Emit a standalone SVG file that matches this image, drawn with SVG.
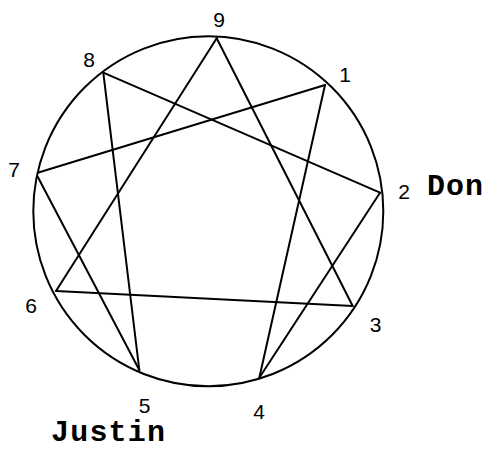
<svg xmlns="http://www.w3.org/2000/svg" width="486" height="451" viewBox="0 0 486 451">
<style>
.ln{stroke:#000;stroke-width:2;fill:none;stroke-linecap:round;stroke-linejoin:round}
.num{font-family:"Liberation Sans",Arial,sans-serif;font-size:21px;fill:#000;text-anchor:middle}
.name{font-family:"Liberation Mono","Courier New",monospace;font-size:30px;font-weight:bold;fill:#000}
</style>
<rect width="486" height="451" fill="#fff"/>
<g id="circle"><circle class="ln" cx="208.3" cy="211.3" r="175"/></g>
<g id="connectors">
<line class="ln" x1="216.7" y1="38.3" x2="352.7" y2="306"/>
<line class="ln" x1="352.7" y1="306" x2="56" y2="291"/>
<line class="ln" x1="56" y1="291" x2="216.7" y2="38.3"/>
<line class="ln" x1="325" y1="85" x2="259.3" y2="377.7"/>
<line class="ln" x1="259.3" y1="377.7" x2="380" y2="192.7"/>
<line class="ln" x1="380" y1="192.7" x2="103.3" y2="72.7"/>
<line class="ln" x1="103.3" y1="72.7" x2="139.3" y2="370"/>
<line class="ln" x1="139.3" y1="370" x2="37.7" y2="176.7"/>
<line class="ln" x1="37.7" y1="172.7" x2="325" y2="85"/>
</g>
<g id="n9"><text class="num" x="219" y="27">9</text></g>
<g id="n1"><text class="num" x="345" y="82">1</text></g>
<g id="n2"><text class="num" x="404" y="199">2</text></g>
<g id="n3"><text class="num" x="375.5" y="332">3</text></g>
<g id="n4"><text class="num" x="259" y="419">4</text></g>
<g id="n5"><text class="num" x="144.5" y="412.7">5</text></g>
<g id="n6"><text class="num" x="31" y="313">6</text></g>
<g id="n7"><text class="num" x="14" y="177">7</text></g>
<g id="n8"><text class="num" x="89" y="67">8</text></g>
<g id="don"><text class="name" x="427" y="195" letter-spacing="1">Don</text></g>
<g id="justin"><text class="name" x="51" y="441" letter-spacing="1.2">Justin</text></g>
</svg>
